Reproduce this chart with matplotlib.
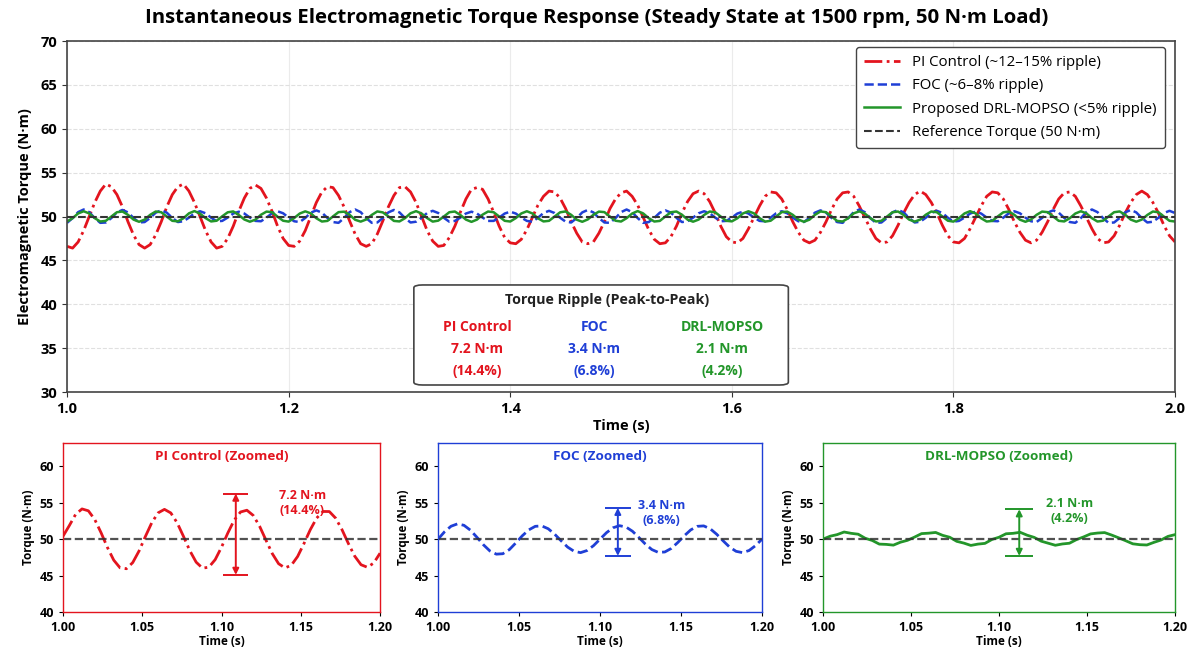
import numpy as np
import matplotlib
matplotlib.use('Agg')
import matplotlib.pyplot as plt
from matplotlib.patches import FancyBboxPatch

plt.rcParams['font.family'] = ['Open Sans', 'DejaVu Sans']

# main window, 1.0 - 2.0 s, every 5 ms
t_main = np.linspace(1.0, 2.0, 201)

pi_main = [
    46.6, 46.4, 47.1, 48.4, 50.0, 51.6, 52.9, 53.7, 53.4, 52.5, 51.1, 49.4, 47.9, 46.8, 46.4, 46.8, 47.9, 49.4, 51.1, 52.5,
    53.4, 53.7, 52.9, 51.6, 50.0, 48.4, 47.1, 46.4, 46.6, 47.5, 48.9, 50.6, 52.1, 53.2, 53.6, 53.2, 52.1, 50.6, 48.9, 47.5,
    46.7, 46.6, 47.2, 48.4, 50.0, 51.6, 52.8, 53.4, 53.3, 52.4, 51.1, 49.5, 48.0, 46.9, 46.6, 46.9, 48.0, 49.5, 51.1, 52.4,
    53.3, 53.4, 52.8, 51.6, 50.0, 48.4, 47.2, 46.6, 46.7, 47.6, 48.9, 50.5, 52.0, 53.1, 53.3, 53.1, 52.0, 50.5, 48.9, 47.6,
    47.0, 46.9, 47.4, 48.5, 49.9, 51.3, 52.3, 52.9, 52.8, 52.1, 50.9, 49.4, 48.1, 47.1, 46.9, 47.1, 48.1, 49.4, 50.9, 52.0,
    52.7, 52.9, 52.3, 51.3, 49.9, 48.5, 47.4, 46.9, 47.0, 47.7, 48.9, 50.4, 51.7, 52.6, 52.9, 52.6, 51.7, 50.4, 48.9, 47.7,
    47.1, 47.0, 47.5, 48.6, 49.9, 51.2, 52.3, 52.8, 52.7, 52.0, 50.8, 49.4, 48.2, 47.3, 47.0, 47.3, 48.2, 49.4, 50.8, 52.0,
    52.7, 52.8, 52.3, 51.2, 49.9, 48.6, 47.5, 47.0, 47.1, 47.8, 49.0, 50.4, 51.6, 52.5, 52.9, 52.5, 51.6, 50.4, 49.0, 47.8,
    47.1, 47.0, 47.5, 48.6, 49.9, 51.2, 52.3, 52.8, 52.7, 52.0, 50.8, 49.4, 48.2, 47.3, 47.0, 47.3, 48.2, 49.4, 50.8, 52.0,
    52.7, 52.8, 52.3, 51.2, 49.9, 48.6, 47.5, 47.0, 47.1, 47.8, 49.0, 50.4, 51.6, 52.5, 52.9, 52.5, 51.6, 50.4, 49.0, 47.8,
    47.1,
]

foc_main = [
    49.28, 49.82, 50.50, 50.80, 50.50, 49.82, 49.28, 49.32, 49.83, 50.47, 50.75, 50.47, 49.83, 49.32,
    49.37, 49.84, 50.44, 50.70, 50.44, 49.84, 49.37, 49.46, 49.87, 50.37, 50.60, 50.37, 49.87, 49.46,
    49.50, 49.88, 50.34, 50.55, 50.34, 49.88, 49.50, 49.46, 49.87, 50.37, 50.60, 50.37, 49.87, 49.46,
    49.37, 49.84, 50.44, 50.70, 50.44, 49.84, 49.37, 49.28, 49.82, 50.50, 50.80, 50.50, 49.82, 49.28,
    49.32, 49.83, 50.47, 50.75, 50.47, 49.83, 49.32, 49.41, 49.86, 50.40, 50.65, 50.40, 49.86, 49.41,
    49.50, 49.88, 50.34, 50.55, 50.34, 49.88, 49.50, 49.50, 49.88, 50.34, 50.55, 50.34, 49.88, 49.50,
    49.41, 49.86, 50.40, 50.65, 50.40, 49.86, 49.41, 49.32, 49.83, 50.47, 50.75, 50.47, 49.83, 49.32,
    49.28, 49.82, 50.50, 50.80, 50.50, 49.82, 49.28, 49.37, 49.84, 50.44, 50.70, 50.44, 49.84, 49.37,
    49.46, 49.87, 50.37, 50.60, 50.37, 49.87, 49.46, 49.50, 49.88, 50.34, 50.55, 50.34, 49.88, 49.50,
    49.46, 49.87, 50.37, 50.60, 50.37, 49.87, 49.46, 49.37, 49.84, 50.44, 50.70, 50.44, 49.84, 49.37,
    49.28, 49.82, 50.50, 50.80, 50.50, 49.82, 49.28, 49.32, 49.83, 50.47, 50.75, 50.47, 49.83, 49.32,
    49.41, 49.86, 50.40, 50.65, 50.40, 49.86, 49.41, 49.50, 49.88, 50.34, 50.55, 50.34, 49.88, 49.50,
    49.46, 49.87, 50.37, 50.60, 50.37, 49.87, 49.46, 49.37, 49.84, 50.44, 50.70, 50.44, 49.84, 49.37,
    49.28, 49.82, 50.50, 50.80, 50.50, 49.82, 49.28, 49.32, 49.83, 50.47, 50.75, 50.47, 49.83, 49.32,
    49.41, 49.86, 50.40, 50.65, 50.40,
]

drl_main = [
    49.43, 49.81, 50.35, 50.60, 50.35, 49.81, 49.43, 49.51, 50.00, 50.49, 50.57, 50.19, 49.65, 49.40, 49.65, 50.19, 50.57, 50.49, 50.00, 49.51,
    49.45, 49.80, 50.36, 50.62, 50.33, 49.82, 49.44, 49.52, 50.02, 50.48, 50.58, 50.18, 49.66, 49.41, 49.64, 50.20, 50.56, 50.50, 49.98, 49.52,
    49.42, 49.83, 50.34, 50.59, 50.36, 49.80, 49.43, 49.50, 50.01, 50.50, 50.55, 50.20, 49.63, 49.42, 49.66, 50.18, 50.58, 50.47, 50.01, 49.50,
    49.44, 49.81, 50.37, 50.61, 50.34, 49.82, 49.42, 49.53, 49.99, 50.49, 50.57, 50.17, 49.65, 49.39, 49.65, 50.21, 50.57, 50.49, 50.00, 49.51,
    49.43, 49.82, 50.35, 50.60, 50.35, 49.80, 49.44, 49.51, 50.00, 50.48, 50.58, 50.19, 49.64, 49.40, 49.67, 50.19, 50.56, 50.50, 49.99, 49.52,
    49.43, 49.81, 50.34, 50.62, 50.35, 49.81, 49.43, 49.50, 50.01, 50.49, 50.57, 50.20, 49.65, 49.41, 49.65, 50.18, 50.57, 50.48, 50.00, 49.51,
    49.45, 49.80, 50.35, 50.60, 50.36, 49.82, 49.42, 49.52, 50.00, 50.50, 50.56, 50.19, 49.66, 49.40, 49.64, 50.19, 50.58, 50.49, 50.01, 49.50,
    49.43, 49.81, 50.36, 50.59, 50.34, 49.81, 49.44, 49.51, 49.99, 50.49, 50.57, 50.18, 49.65, 49.42, 49.65, 50.20, 50.57, 50.49, 50.00, 49.52,
    49.42, 49.82, 50.35, 50.61, 50.35, 49.80, 49.43, 49.50, 50.01, 50.48, 50.57, 50.19, 49.64, 49.40, 49.66, 50.19, 50.56, 50.50, 50.00, 49.51,
    49.44, 49.81, 50.34, 50.60, 50.36, 49.81, 49.43, 49.52, 50.00, 50.49, 50.58, 50.20, 49.65, 49.41, 49.65, 50.18, 50.57, 50.49, 49.99, 49.51,
    49.43,
]

# zoomed window, 1.00 - 1.20 s, every 4 ms
t_zoom = np.linspace(1.0, 1.2, 51)

pi_zoom = [
    50.40, 51.87, 53.42, 54.15, 53.89, 52.71, 50.89, 48.87, 47.12, 46.06, 45.94, 46.79, 48.39, 50.38, 52.26, 53.61, 54.09,
    53.60, 52.25, 50.38, 48.42, 46.84, 46.02, 46.15, 47.19, 48.90, 50.86, 52.61, 53.73, 53.97, 53.26, 51.78, 49.88, 48.02,
    46.63, 46.05, 46.41, 47.62, 49.39, 51.30, 52.89, 53.80, 53.79, 52.88, 51.30, 49.41, 47.67, 46.49, 46.14, 46.72, 48.07,
]

foc_zoom = [
    50.00, 51.01, 51.77, 52.10, 51.90, 51.23, 50.26, 49.23, 48.38, 47.94, 48.00, 48.56, 49.48, 50.46, 51.27, 51.76, 51.82,
    51.43, 50.68, 49.77, 48.91, 48.33, 48.15, 48.44, 49.11, 50.00, 50.89, 51.56, 51.85, 51.67, 51.09, 50.23, 49.32, 48.57,
    48.18, 48.24, 48.73, 49.54, 50.46, 51.27, 51.76, 51.82, 51.43, 50.68, 49.77, 48.91, 48.33, 48.15, 48.44, 49.11, 50.00,
]

drl_zoom = [
    50.00, 50.40, 50.62, 50.98, 50.80, 50.68, 50.12, 49.82, 49.32, 49.28, 49.18, 49.58, 49.84, 50.28, 50.76, 50.82, 50.92,
    50.52, 50.26, 49.70, 49.46, 49.14, 49.32, 49.42, 49.96, 50.26, 50.74, 50.80, 50.94, 50.54, 50.24, 49.72, 49.44, 49.16,
    49.34, 49.44, 49.94, 50.30, 50.72, 50.84, 50.90, 50.56, 50.18, 49.78, 49.36, 49.24, 49.20, 49.56, 49.88, 50.38, 50.62,
]

t_ref = 50.0
methods = ['PI Control', 'FOC', 'DRL-MOPSO']
ripple_nm = [7.2, 3.4, 2.1]
ripple_pct = [14.4, 6.8, 4.2]
# arrow x, arrow bottom/top
arrow_x = [1.109, 1.111, 1.1115]
arrow_lo = [45.1, 47.7, 47.7]
arrow_hi = [56.25, 54.3, 54.1]
label_xy = [(1.151, 54.9), (1.138, 53.65), (1.140, 53.9)]

c_pi = '#e3141e'
c_foc = '#1f3fd6'
c_drl = '#23962a'
c_ref = '#333333'

fig = plt.figure(figsize=(11.91, 6.47), dpi=100)

# ---- main axes ----
ax = fig.add_axes([0.0563, 0.3941, 0.9303, 0.5425])
ax.plot(t_main, pi_main, color=c_pi, ls='-.', lw=2.0, label='PI Control (~12\u201315% ripple)')
ax.plot(t_main, foc_main, color=c_foc, ls='--', lw=1.8, label='FOC (~6\u20138% ripple)')
ax.plot(t_main, drl_main, color=c_drl, ls='-', lw=1.8, label='Proposed DRL-MOPSO (<5% ripple)')
ax.axhline(t_ref, color=c_ref, ls='--', lw=1.5, label='Reference Torque (50 N\u00b7m)', zorder=5)
ax.set_xlim(1.0, 2.0)
ax.set_ylim(30, 70)
ax.set_xticks(np.arange(1.0, 2.01, 0.2))
ax.set_yticks(np.arange(30, 71, 5))
ax.grid(True, axis='y', ls='--', color='#d9d9d9', lw=0.8, alpha=0.8)
ax.grid(True, axis='x', ls='-', color='#e6e6e6', lw=0.8, alpha=0.8)
ax.set_axisbelow(True)
ax.tick_params(labelsize=10.5, color='#333333')
for lab in ax.get_xticklabels() + ax.get_yticklabels():
    lab.set_fontweight('bold')
for sp in ax.spines.values():
    sp.set_color('#444444')
    sp.set_linewidth(1.2)
ax.set_xlabel('Time (s)', fontsize=10.5, fontweight='bold', labelpad=2)
ax.set_ylabel('Electromagnetic Torque (N\u00b7m)', fontsize=10.5, fontweight='bold', labelpad=6)
fig.text(0.501, 0.972, 'Instantaneous Electromagnetic Torque Response (Steady State at 1500 rpm, 50 N\u00b7m Load)',
         ha='center', va='center', fontsize=14.7, fontweight='bold')
leg = ax.legend(loc='upper right', fontsize=10.8, framealpha=1, edgecolor='#444444',
                handlelength=2.4, borderpad=0.55, labelspacing=0.55, borderaxespad=0,
                bbox_to_anchor=(0.991, 0.983))
leg.get_frame().set_linewidth(1.0)

# ripple summary box
box = FancyBboxPatch((0.313, 0.02), 0.338, 0.285, boxstyle='round,pad=0,rounding_size=0.008',
                     transform=ax.transAxes, fc='white', ec='#444444', lw=1.2, zorder=6)
ax.add_patch(box)
ax.text(0.487, 0.262, 'Torque Ripple (Peak-to-Peak)', transform=ax.transAxes, ha='center', va='center',
        fontsize=10.3, fontweight='bold', color='#222222', zorder=7)
col_x = [0.370, 0.4756, 0.591]
cols = [c_pi, c_foc, c_drl]
for i in range(3):
    ax.text(col_x[i], 0.186, methods[i], transform=ax.transAxes, ha='center', va='center',
            fontsize=10, fontweight='bold', color=cols[i], zorder=7)
    ax.text(col_x[i], 0.122, f'{ripple_nm[i]} N\u00b7m', transform=ax.transAxes, ha='center', va='center',
            fontsize=10, fontweight='bold', color=cols[i], zorder=7)
    ax.text(col_x[i], 0.060, f'({ripple_pct[i]}%)', transform=ax.transAxes, ha='center', va='center',
            fontsize=10, fontweight='bold', color=cols[i], zorder=7)

# ---- zoomed panels ----
zoom_pos = [[0.0529, 0.0541, 0.2662, 0.2612],
            [0.3678, 0.0541, 0.2720, 0.2612],
            [0.6910, 0.0541, 0.2956, 0.2612]]
zoom_data = [pi_zoom, foc_zoom, drl_zoom]
zoom_ls = ['-.', '--', '-']
zoom_titles = ['PI Control (Zoomed)', 'FOC (Zoomed)', 'DRL-MOPSO (Zoomed)']

for i in range(3):
    z = fig.add_axes(zoom_pos[i])
    z.plot(t_zoom, zoom_data[i], color=cols[i], ls=zoom_ls[i], lw=2.0)
    z.axhline(t_ref, color=c_ref, ls='--', lw=1.6, alpha=0.85)
    z.set_xlim(1.0, 1.2)
    z.set_ylim(40, 63.2)
    z.set_xticks([1.00, 1.05, 1.10, 1.15, 1.20])
    z.set_xticklabels(['1.00', '1.05', '1.10', '1.15', '1.20'])
    z.set_yticks([40, 45, 50, 55, 60])
    z.tick_params(labelsize=9, length=3)
    for lab in z.get_xticklabels() + z.get_yticklabels():
        lab.set_fontweight('bold')
    for sp in z.spines.values():
        sp.set_color(cols[i])
        sp.set_linewidth(1.0)
    z.set_xlabel('Time (s)', fontsize=8.5, fontweight='bold', labelpad=1)
    z.set_ylabel('Torque (N\u00b7m)', fontsize=8.5, fontweight='bold', labelpad=3)
    z.text(0.5, 0.923, zoom_titles[i], transform=z.transAxes, ha='center', va='center',
           fontsize=9.7, fontweight='bold', color=cols[i])
    # peak-to-peak marker
    z.annotate('', xy=(arrow_x[i], arrow_hi[i]), xytext=(arrow_x[i], arrow_lo[i]),
               arrowprops=dict(arrowstyle='<|-|>', color=cols[i], lw=1.4, mutation_scale=9,
                               shrinkA=0, shrinkB=0))
    z.hlines([arrow_hi[i], arrow_lo[i]], arrow_x[i] - 0.008, arrow_x[i] + 0.008, color=cols[i], lw=1.4)
    z.text(label_xy[i][0], label_xy[i][1], f'{ripple_nm[i]} N\u00b7m\n({ripple_pct[i]}%)',
           ha='center', va='center', fontsize=9, fontweight='bold', color=cols[i], linespacing=1.2)

fig.savefig('out.png', dpi=100, facecolor='white')
